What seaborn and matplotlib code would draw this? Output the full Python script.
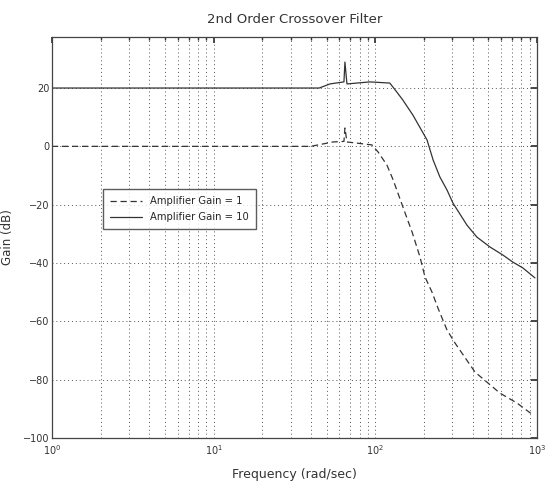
import matplotlib
matplotlib.use("Agg")
import matplotlib.pyplot as plt
import seaborn as sns
import pandas as pd
from matplotlib.ticker import LogLocator, FixedLocator

# Magnitude response for two filter gains (frequency in rad/s, magnitude in dB)
freq_k1 = [1, 10, 40, 54.7, 64.0, 64.9, 66.8, 95.3, 104, 118, 129, 138, 153, 169,
           189, 203, 224, 244, 278, 311, 414, 590, 752, 945]
gain_k1 = [0, 0, 0, 1.5, 1.7, 6.3, 1.5, 0.5, -1.9, -6.4, -11.5, -16, -22.9, -29.4,
           -37.9, -44.8, -49.9, -55.4, -63, -67.4, -77.4, -84.6, -88, -92.1]

freq_k10 = [1, 10, 45, 52.4, 64.0, 64.9, 66.8, 92.7, 123, 136, 148, 171, 209, 228,
            251, 278, 302, 369, 425, 512, 617, 710, 819, 972]
gain_k10 = [20, 20, 20, 21.4, 22.1, 28.9, 21.4, 22.1, 21.7, 18.6, 15.9, 10.7, 2.2, -4.7,
            -10.5, -15, -19.4, -27, -31.1, -34.5, -37.3, -39.7, -41.7, -45.1]

labels = ["Amplifier Gain = 1", "Amplifier Gain = 10"]
y_ticks = [-100, -80, -60, -40, -20, 0, 20]

df1 = pd.DataFrame({"freq": freq_k1, "gain": gain_k1})
df10 = pd.DataFrame({"freq": freq_k10, "gain": gain_k10})

sns.set_theme(style="white")
plt.rcParams["font.family"] = ["DejaVu Sans"]

fig = plt.figure(figsize=(5.49, 4.86), dpi=100)
ax = fig.add_axes([0.0947, 0.0988, 0.8833, 0.8251])
ax.set_xscale("log")

sns.lineplot(data=df1, x="freq", y="gain", ax=ax, color="#333333", lw=0.9,
             linestyle=(0, (5, 3)), estimator=None, sort=False, label=labels[0])
sns.lineplot(data=df10, x="freq", y="gain", ax=ax, color="#333333", lw=0.9,
             linestyle="-", estimator=None, sort=False, label=labels[1])

ax.set_xlim(1, 1000)
ax.set_ylim(-100, 37.5)
ax.yaxis.set_major_locator(FixedLocator(y_ticks))
ax.xaxis.set_major_locator(LogLocator(base=10, numticks=10))
ax.xaxis.set_minor_locator(LogLocator(base=10, subs=range(2, 10), numticks=20))

ax.grid(True, which="major", axis="both", color="#555555", linestyle=(0, (1, 3)), lw=0.7)
ax.grid(True, which="minor", axis="x", color="#555555", linestyle=(0, (1, 3)), lw=0.7)

for s in ax.spines.values():
    s.set_color("#444444")
    s.set_linewidth(0.9)

ax.tick_params(which="both", direction="in", top=True, right=True, labelsize=7,
               colors="#333333", length=4)
ax.tick_params(axis="y", pad=2)
ax.tick_params(which="minor", length=2)

ax.set_title("2nd Order Crossover Filter", fontsize=9.5, color="#333333", pad=10)
ax.set_xlabel("Frequency (rad/sec)", fontsize=9, color="#333333", labelpad=8)
ax.set_ylabel("Gain (dB)", fontsize=8.5, color="#333333")
ax.yaxis.set_label_coords(-0.078, 0.5)

leg = ax.legend(loc="upper left", bbox_to_anchor=(0.105, 0.62), fontsize=7.2,
                frameon=True, fancybox=False, handlelength=3.2, borderpad=0.7,
                labelspacing=0.6, borderaxespad=0)
leg.get_frame().set_edgecolor("#333333")
leg.get_frame().set_linewidth(1.0)

fig.savefig("out.png", dpi=100, facecolor="white")
